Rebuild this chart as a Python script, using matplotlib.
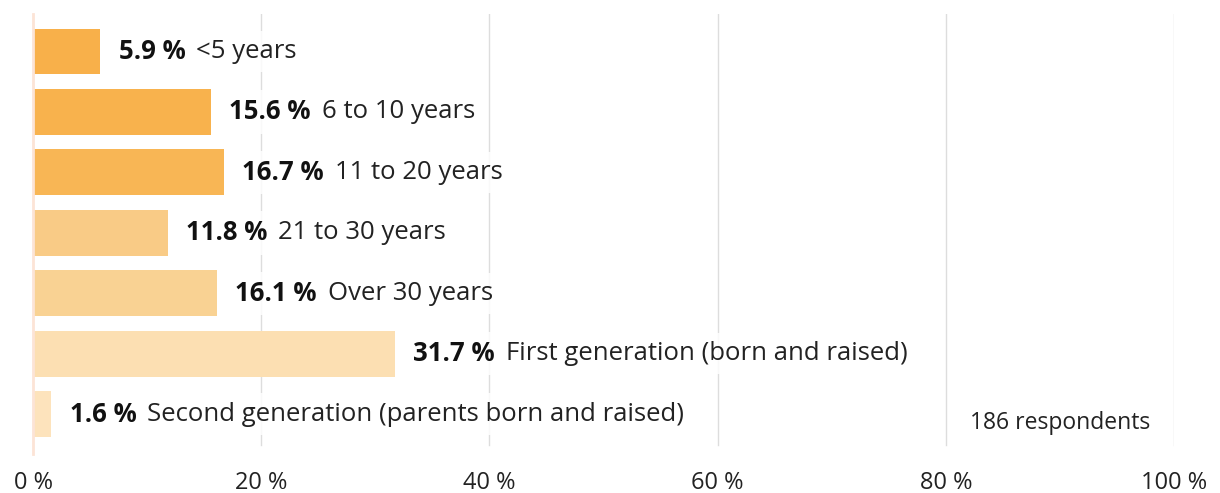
import matplotlib
matplotlib.use('Agg')
import matplotlib.pyplot as plt

plt.rcParams['font.family'] = ['Open Sans', 'DejaVu Sans']

categories = ['<5 years', '6 to 10 years', '11 to 20 years', '21 to 30 years',
              'Over 30 years', 'First generation (born and raised)',
              'Second generation (parents born and raised)']
values = [5.9, 15.6, 16.7, 11.8, 16.1, 31.7, 1.6]
colors = ['#F8B04A', '#F8B24D', '#F8B655', '#F9CB86', '#F9D293', '#FCDFB2', '#FDE3BC']
ticks = [0, 20, 40, 60, 80, 100]
tick_labels = ['0 %', '20 %', '40 %', '60 %', '80 %', '100 %']
note = '186 respondents'

fig = plt.figure(figsize=(12.2, 4.93), dpi=100)
ax = fig.add_axes([33 / 1220, 39 / 493, 1141 / 1220, 440 / 493])

y = list(range(len(categories)))
ax.barh(y, values, height=0.76, color=colors, zorder=2)

ax.set_xlim(0, 100)
ax.set_ylim(6.66, -0.62)

for v in ticks[1:]:
    ax.axvline(v, ymin=0.02, ymax=1, color='#dddddd', lw=1, zorder=0)

for i, (v, cat) in enumerate(zip(values, categories)):
    t1 = ax.text(v + 1.6, i, f'{v} %', fontsize=18.5, fontweight='bold', color='#111111',
                 va='center', ha='left', zorder=3,
                 bbox=dict(facecolor='white', edgecolor='none', alpha=0.85, pad=6))
    ax.annotate(cat, xy=(1, 0.5), xycoords=t1, xytext=(8, 0), textcoords='offset points',
                fontsize=18.5, color='#222222', va='center', ha='left', zorder=3,
                bbox=dict(facecolor='white', edgecolor='none', alpha=0.85, pad=6))

ax.text(90, 6.15, note, fontsize=16.5, color='#222222', ha='center', va='center', zorder=3,
        bbox=dict(facecolor='white', edgecolor='none', pad=6))

ax.set_yticks([])
ax.set_xticks(ticks)
ax.set_xticklabels(tick_labels, fontsize=17, color='#222222')
ax.tick_params(axis='x', length=0, pad=12)
for s in ['top', 'right', 'bottom']:
    ax.spines[s].set_visible(False)
ax.spines['left'].set_color('#FCE4D6')
ax.spines['left'].set_linewidth(2)

fig.savefig('out.png', dpi=100)
